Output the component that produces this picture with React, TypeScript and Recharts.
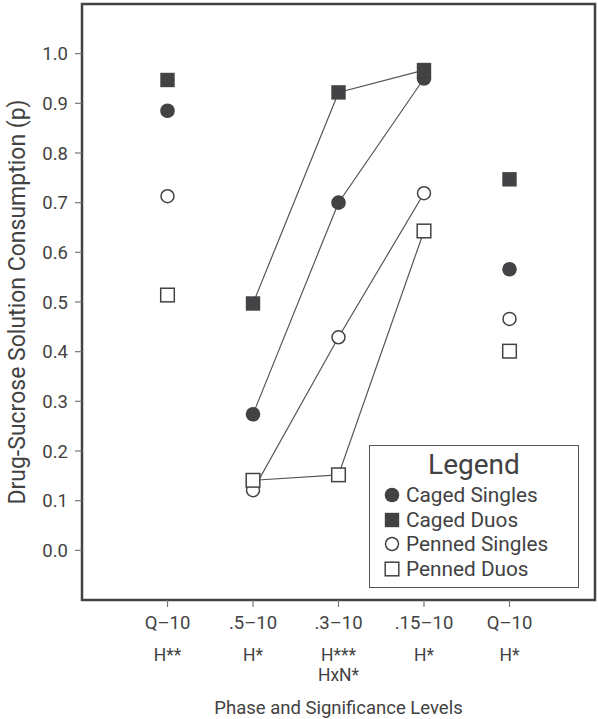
import {
  ComposedChart,
  Line,
  XAxis,
  YAxis,
  ReferenceArea,
} from "recharts";

// phases along the x axis, with the significance notes printed under each
const categories = ["Q–10", ".5–10", ".3–10", ".15–10", "Q–10"];
const significance = [["H**"], ["H*"], ["H***", "HxN*"], ["H*"], ["H*"]];
// which phases are joined by lines
const connected = [false, true, true, true, false];

const cagedSingles = [0.885, 0.274, 0.7, 0.95, 0.566];
const cagedDuos = [0.947, 0.497, 0.922, 0.967, 0.747];
const pennedSingles = [0.713, 0.121, 0.429, 0.719, 0.466];
const pennedDuos = [0.514, 0.141, 0.152, 0.643, 0.401];

const yTicks = [0, 0.1, 0.2, 0.3, 0.4, 0.5, 0.6, 0.7, 0.8, 0.9, 1.0];

const INK = "#434345";
const TEXT = "#424242";
const FONT = "Roboto, 'Open Sans', sans-serif";

type MarkerKind = "circle" | "square" | "openCircle" | "openSquare";

const rows = categories.map((_, i) => ({
  x: i,
  cs: cagedSingles[i],
  cd: cagedDuos[i],
  ps: pennedSingles[i],
  pd: pennedDuos[i],
  csLine: connected[i] ? cagedSingles[i] : null,
  cdLine: connected[i] ? cagedDuos[i] : null,
  psLine: connected[i] ? pennedSingles[i] : null,
  pdLine: connected[i] ? pennedDuos[i] : null,
}));

function Marker({ cx, cy, kind }: { cx: number; cy: number; kind: MarkerKind }) {
  if (cx == null || cy == null) return null;
  switch (kind) {
    case "circle":
      return <circle cx={cx} cy={cy} r={7.3} fill={INK} />;
    case "square":
      return <rect x={cx - 7.2} y={cy - 7.2} width={14.4} height={14.4} fill={INK} />;
    case "openCircle":
      return <circle cx={cx} cy={cy} r={6.5} fill="#fff" stroke={INK} strokeWidth={1.5} />;
    default:
      return (
        <rect x={cx - 6.8} y={cy - 6.8} width={13.6} height={13.6} fill="#fff" stroke={INK} strokeWidth={1.5} />
      );
  }
}

function LegendSymbol({ kind }: { kind: MarkerKind }) {
  return (
    <svg width={16} height={16} style={{ display: "block" }}>
      <Marker cx={8} cy={8} kind={kind} />
    </svg>
  );
}

function PhaseTick({ x, y, payload }: any) {
  const i = payload.value as number;
  const lines = [categories[i], ...significance[i]];
  const offsets = [20, 32, 20];
  return (
    <g transform={`translate(${x},${y})`}>
      {lines.map((t, k) => (
        <text
          key={k}
          x={0}
          y={offsets.slice(0, k + 1).reduce((a, b) => a + b, 0)}
          textAnchor="middle"
          fill={TEXT}
          fontSize={k === 0 ? 18.5 : 17.5}
          fontFamily={FONT}
        >
          {t}
        </text>
      ))}
    </g>
  );
}

const legendItems: { label: string; kind: MarkerKind }[] = [
  { label: "Caged Singles", kind: "circle" },
  { label: "Caged Duos", kind: "square" },
  { label: "Penned Singles", kind: "openCircle" },
  { label: "Penned Duos", kind: "openSquare" },
];

const markerSeries: { key: string; kind: MarkerKind }[] = [
  { key: "ps", kind: "openCircle" },
  { key: "pd", kind: "openSquare" },
  { key: "cs", kind: "circle" },
  { key: "cd", kind: "square" },
];

export default function App() {
  return (
    <div
      style={{
        position: "absolute",
        left: 0,
        top: 0,
        width: 598,
        height: 719,
        background: "#fff",
        fontFamily: FONT,
      }}
    >
      <ComposedChart
        width={598}
        height={719}
        data={rows}
        margin={{ top: 4, right: 3, bottom: 0, left: 0 }}
      >
        <ReferenceArea
          x1={-1}
          x2={5}
          y1={-0.1}
          y2={1.1}
          fill="none"
          stroke={INK}
          strokeWidth={2.5}
          ifOverflow="visible"
        />
        <XAxis
          type="number"
          dataKey="x"
          domain={[-1, 5]}
          ticks={[0, 1, 2, 3, 4]}
          axisLine={false}
          tickLine={{ stroke: "#777", strokeWidth: 1.2 }}
          tickSize={7}
          tick={<PhaseTick />}
          height={119}
          interval={0}
          label={{
            value: "Phase and Significance Levels",
            position: "insideBottom",
            offset: 5,
            fill: TEXT,
            fontSize: 18.5,
          }}
        />
        <YAxis
          type="number"
          domain={[-0.1, 1.1]}
          ticks={yTicks}
          tickFormatter={(v: number) => v.toFixed(1)}
          axisLine={false}
          tickLine={{ stroke: "#777", strokeWidth: 1.2 }}
          tickSize={7}
          tickMargin={7}
          tick={{ fill: TEXT, fontSize: 18.5 }}
          width={82}
          interval={0}
          label={{
            value: "Drug-Sucrose Solution  Consumption (p)",
            angle: -90,
            position: "insideLeft",
            offset: 17,
            fill: TEXT,
            fontSize: 23,
            style: { textAnchor: "middle" },
          }}
        />

        {/* connecting segments, phases .5 to .15 only */}
        {["csLine", "cdLine", "psLine", "pdLine"].map((k) => (
          <Line
            key={k}
            dataKey={k}
            stroke="#555"
            strokeWidth={1.2}
            dot={false}
            activeDot={false}
            connectNulls={false}
            isAnimationActive={false}
          />
        ))}

        {markerSeries.map((s) => (
          <Line
            key={s.key}
            dataKey={s.key}
            stroke="none"
            activeDot={false}
            isAnimationActive={false}
            dot={(p: any) => <Marker key={`${s.key}-${p.index}`} cx={p.cx} cy={p.cy} kind={s.kind} />}
          />
        ))}
      </ComposedChart>

      <div
        style={{
          position: "absolute",
          left: 369,
          top: 445,
          width: 210,
          height: 143,
          boxSizing: "border-box",
          border: "1.5px solid #555",
          background: "#fff",
          color: TEXT,
          paddingTop: 4,
        }}
      >
        <div style={{ textAlign: "center", fontSize: 28, lineHeight: "30px", marginBottom: 3 }}>
          Legend
        </div>
        {legendItems.map((it) => (
          <div
            key={it.label}
            style={{
              display: "flex",
              alignItems: "center",
              height: 24.5,
              lineHeight: "24.5px",
              fontSize: 20.8,
              paddingLeft: 14,
              whiteSpace: "nowrap",
            }}
          >
            <LegendSymbol kind={it.kind} />
            <span style={{ marginLeft: 6, lineHeight: "24.5px" }}>{it.label}</span>
          </div>
        ))}
      </div>
    </div>
  );
}
